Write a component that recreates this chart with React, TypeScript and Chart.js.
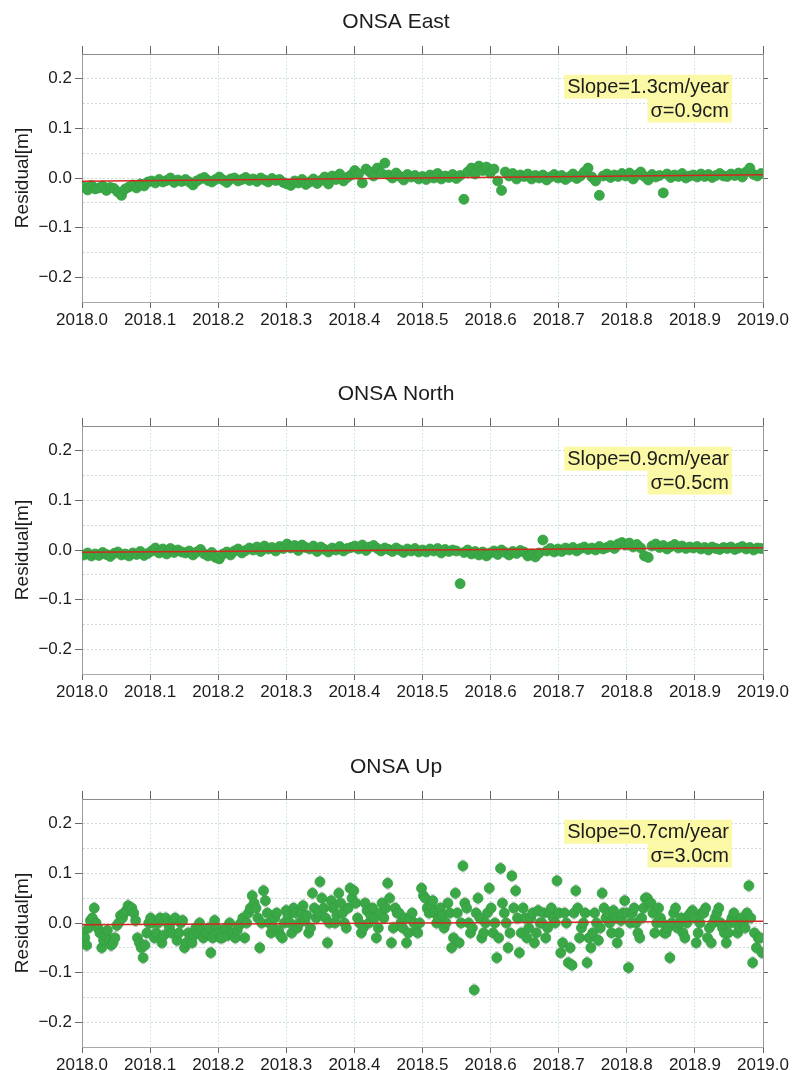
import React, { useEffect, useRef } from 'react';
import { Chart, registerables } from 'chart.js';

Chart.register(...registerables);
Chart.defaults.font.family = '"Liberation Sans", Arial, Helvetica, sans-serif';

// time span (decimal years) and axis steps
const YEAR_START = 2018.0;
const YEAR_END = 2019.0;
const X_TICK_STEP = 0.1;
const Y_MIN = -0.25;
const Y_MAX = 0.25;
const Y_GRID_STEP = 0.05;

// residuals [m] (evenly spaced over the year)
const EAST_RESID = [
  -0.018, -0.024, -0.015, -0.022, -0.02, -0.016, -0.025, -0.019, -0.021,
  -0.028, -0.035, -0.022, -0.018, -0.014, -0.02, -0.012, -0.016, -0.008,
  -0.006, -0.01, -0.003, -0.008, -0.005, 0.0, -0.009, -0.004, -0.007,
  -0.003, -0.008, -0.014, -0.006, -0.002, 0.001, -0.005, -0.008, -0.003,
  0.002, -0.004, -0.009, -0.002, 0.0, -0.006, -0.003, 0.001, -0.005,
  -0.002, -0.007, 0.0, -0.004, -0.008, -0.001, -0.005, -0.003, -0.009,
  -0.012, -0.015, -0.006, -0.01, -0.003, -0.013, -0.008, -0.002, -0.011,
  -0.005, 0.002, -0.012, 0.004, -0.003, 0.008, -0.006, 0.001, 0.006,
  0.015, 0.008, -0.01, 0.018, 0.012, 0.004, 0.02, 0.01, 0.03,
  0.006, 0.0, 0.01, 0.003, -0.004, 0.007, 0.002, 0.005, -0.002,
  0.003, -0.003, 0.006, 0.0, 0.009, -0.002, 0.004, 0.001, 0.007,
  -0.001, 0.005, -0.043, 0.012, 0.02, 0.008, 0.024, 0.015, 0.022,
  0.01, 0.018, -0.006, -0.025, 0.012, 0.004, 0.009, -0.002, 0.006,
  0.003, 0.008, -0.002, 0.005, 0.0, 0.006, -0.004, 0.002, 0.007,
  0.0, 0.005, -0.003, 0.002, 0.008, -0.001, 0.004, 0.012, 0.02,
  0.002, -0.006, -0.035, 0.004, 0.008, 0.001, 0.006, 0.003, 0.009,
  0.004, 0.01, -0.002, 0.006, 0.012, 0.003, -0.004, 0.007, 0.002,
  0.005, -0.03, 0.008, 0.001, 0.006, 0.003, 0.009, 0.0, 0.004,
  0.006, 0.002, 0.008, 0.003, 0.007, 0.001, 0.005, 0.009, 0.004,
  0.003, 0.008, 0.005, 0.01, 0.002, 0.012, 0.02, 0.007, 0.004, 0.009,
];

const NORTH_RESID = [
  -0.01, -0.006, -0.012, -0.008, -0.011, -0.005, -0.009, -0.013, -0.007,
  -0.004, -0.01, -0.008, -0.012, -0.006, -0.009, -0.003, -0.011, -0.007,
  -0.002, 0.004, -0.006, 0.002, -0.008, 0.003, -0.005, 0.0, -0.004,
  -0.006, -0.002, -0.01, -0.004, 0.001, -0.008, -0.012, -0.005, -0.015,
  -0.018, -0.008, -0.004, -0.01, -0.002, 0.002, -0.006, -0.001, 0.004,
  0.0, 0.006, -0.003, 0.008, 0.002, 0.005, -0.002, 0.007, 0.003,
  0.012, 0.004, 0.009, -0.001, 0.01, 0.005, 0.002, 0.008, -0.003,
  0.006, 0.001, -0.004, 0.004, 0.0, 0.007, -0.002, 0.003, 0.005,
  0.008, 0.002, 0.01, -0.001, 0.006, 0.009, 0.003, -0.002, 0.004,
  0.001, -0.003, 0.004, 0.0, -0.005, 0.002, -0.002, 0.003, -0.004,
  0.0, -0.004, 0.002, -0.002, 0.003, -0.006, 0.001, -0.003, 0.0,
  -0.002, -0.068, -0.005, 0.0, -0.008, -0.003, -0.01, -0.004, -0.012,
  -0.006, -0.002, -0.009, 0.0, -0.005, -0.01, -0.003, -0.007, -0.001,
  -0.004, -0.012, -0.008, -0.014, -0.006, 0.02, -0.002, 0.003, -0.004,
  0.002, -0.003, 0.004, 0.0, 0.005, -0.002, 0.003, 0.006, 0.001,
  0.004, 0.0, 0.007, 0.002, 0.005, 0.009, 0.003, 0.012, 0.015,
  0.01, 0.014, 0.006, 0.011, 0.004, -0.012, -0.015, 0.008, 0.012,
  0.005, 0.009, 0.002, 0.007, 0.011, 0.004, 0.008, 0.003, 0.006,
  0.004, 0.007, 0.002, 0.005, 0.0, 0.006, 0.003, 0.001, 0.005,
  0.003, 0.006, 0.001, 0.004, 0.007, 0.002, 0.005, 0.0, 0.004, 0.003,
];

const UP_RESID = [
  -0.02, -0.03, -0.045, -0.01, 0.005, 0.01, 0.03, 0.0, -0.01, -0.02, -0.05, -0.035, -0.025, -0.015, -0.035, -0.045, -0.04, -0.03,
  -0.005, 0.0, 0.015, 0.01, 0.02, 0.025, 0.035, 0.03, 0.03, 0.02, 0.005, -0.03, -0.04, -0.05, -0.07, -0.045, -0.02, 0.0,
  0.01, 0.0, -0.03, -0.02, 0.0, 0.01, -0.04, -0.025, 0.01, 0.0, -0.01, -0.02, 0.005, 0.01, -0.035, -0.02, 0.0, 0.005,
  -0.05, -0.04, -0.02, -0.03, -0.04, -0.025, -0.01, -0.02, 0.0, -0.015, -0.03, -0.02, -0.02, -0.01, -0.06, -0.03, 0.005, -0.01,
  -0.02, -0.03, -0.03, -0.015, -0.01, -0.025, 0.0, -0.02, -0.025, -0.03, -0.015, -0.005, 0.0, 0.01, -0.03, 0.0, 0.02, 0.03,
  0.055, 0.04, 0.03, 0.01, -0.05, 0.0, 0.065, 0.045, 0.02, 0.0, -0.02, -0.01, 0.01, 0.02, -0.015, -0.025, -0.03, 0.0,
  0.025, 0.015, 0.0, -0.02, 0.03, 0.02, -0.01, 0.0, 0.02, 0.035, 0.005, 0.015, -0.02, -0.01, 0.06, 0.03, 0.01, 0.02,
  0.083, 0.05, 0.03, 0.01, -0.04, 0.0, 0.045, 0.03, 0.0, 0.015, 0.06, 0.04, 0.02, 0.0, -0.01, 0.03, 0.07, 0.05,
  0.065, 0.04, 0.01, 0.0, -0.02, -0.01, 0.04, 0.025, 0.0, 0.015, 0.03, 0.01, -0.03, -0.01, 0.02, 0.04, 0.01, 0.03,
  0.08, 0.05, -0.04, -0.01, 0.03, 0.02, 0.02, 0.0, -0.01, 0.01, -0.04, -0.02, 0.01, 0.02, 0.0, -0.015, -0.02, 0.0,
  0.07, 0.055, 0.05, 0.03, 0.02, 0.035, 0.045, 0.02, 0.0, 0.01, 0.03, 0.015, -0.01, 0.0, 0.04, 0.02, -0.05, -0.03,
  0.06, 0.02, -0.04, 0.0, 0.115, 0.04, 0.03, 0.0, -0.02, -0.01, -0.135, 0.02, 0.05, 0.01, -0.03, -0.02, 0.0, 0.02,
  0.07, 0.03, -0.02, 0.0, -0.07, -0.03, 0.11, 0.04, 0.02, 0.0, -0.05, -0.02, 0.095, 0.03, 0.065, 0.01, -0.06, -0.02,
  0.03, 0.01, -0.03, -0.01, 0.01, 0.02, -0.04, -0.02, 0.025, 0.0, 0.0, 0.02, -0.03, -0.01, 0.02, 0.03, 0.01, 0.0,
  0.085, 0.02, -0.06, -0.04, 0.02, 0.0, -0.08, -0.05, -0.085, 0.02, 0.065, 0.03, -0.03, -0.01, 0.0, 0.02, -0.08, -0.03,
  -0.05, -0.02, 0.02, 0.0, -0.035, -0.01, 0.06, 0.03, 0.01, 0.02, 0.0, -0.02, 0.025, 0.01, -0.04, -0.02, 0.005, 0.02,
  0.045, 0.02, -0.09, 0.0, 0.02, 0.03, 0.0, -0.02, -0.03, 0.01, 0.03, 0.05, 0.05, 0.04, 0.04, 0.02, -0.02, 0.0,
  0.03, 0.01, 0.0, -0.02, -0.02, -0.01, -0.07, 0.0, 0.02, 0.03, -0.01, 0.0, 0.01, -0.02, -0.03, 0.0, 0.015, 0.02,
  0.025, 0.01, -0.04, -0.02, 0.0, 0.02, 0.02, 0.03, -0.03, -0.01, -0.04, 0.0, 0.01, 0.02, 0.03, 0.0, -0.01, -0.02,
  -0.04, -0.02, 0.0, 0.01, 0.02, 0.0, -0.02, -0.01, 0.01, 0.0, -0.01, 0.02, 0.075, 0.01, -0.08, -0.02, -0.05, -0.03, -0.03, -0.06,
];

// formal error of the Up solutions [m]
const UP_ERR = 0.012;

// fitted linear trend, value at start and end of the year [m]
const EAST_TREND = [-0.0065, 0.0065];
const NORTH_TREND = [-0.0045, 0.0045];
const UP_TREND = [-0.0035, 0.0035];

const TITLES = ['ONSA East', 'ONSA North', 'ONSA Up'];
const SLOPE_TEXT = ['Slope=1.3cm/year', 'Slope=0.9cm/year', 'Slope=0.7cm/year'];
const SIGMA_TEXT = ['σ=0.9cm', 'σ=0.5cm', 'σ=3.0cm'];

// where the stats box sits, in data units (right edge, line centres)
const STAT_X = 2018.95;
const STAT_Y = [0.184, 0.136];

const GREEN = '#3aa846';
const RED = '#d2281e';
const TEXT = '#1c1c1c';

const isMajorY = (v: number) => Math.abs(Math.round(v * 100)) % 10 === 0;

const statBoxPlugin = {
  id: 'statBox',
  afterDatasetsDraw(chart: any, _args: any, opts: any) {
    if (!opts || !opts.lines) return;
    const { ctx, scales } = chart;
    const xr = scales.x.getPixelForValue(opts.x);
    ctx.save();
    ctx.font = '20px "Liberation Sans", Arial, sans-serif';
    ctx.textAlign = 'right';
    ctx.textBaseline = 'middle';
    opts.lines.forEach((txt: string, k: number) => {
      const y = scales.y.getPixelForValue(opts.y[k]);
      const w = ctx.measureText(txt).width;
      ctx.fillStyle = '#fbf9a6';
      ctx.fillRect(xr - w - 3, y - 12, w + 6, 24);
      ctx.fillStyle = TEXT;
      ctx.fillText(txt, xr, y + 1);
    });
    ctx.restore();
  },
};

const errBarPlugin = {
  id: 'errBars',
  beforeDatasetsDraw(chart: any, _args: any, opts: any) {
    if (!opts || !opts.sigma) return;
    const { ctx, scales } = chart;
    const pts = chart.data.datasets[1].data as { x: number; y: number }[];
    ctx.save();
    ctx.strokeStyle = 'rgba(160,160,160,0.55)';
    ctx.lineWidth = 1;
    ctx.beginPath();
    for (const p of pts) {
      const x = scales.x.getPixelForValue(p.x);
      const y1 = scales.y.getPixelForValue(p.y - opts.sigma);
      const y2 = scales.y.getPixelForValue(p.y + opts.sigma);
      ctx.moveTo(x, y1);
      ctx.lineTo(x, y2);
      ctx.moveTo(x - 2, y1);
      ctx.lineTo(x + 2, y1);
      ctx.moveTo(x - 2, y2);
      ctx.lineTo(x + 2, y2);
    }
    ctx.stroke();
    ctx.restore();
  },
};

interface PanelProps {
  top: number;
  height: number;
  title: string;
  values: number[];
  trend: number[];
  slope: string;
  sigma: string;
  err: number;
}

function ResidualPanel({ top, height, title, values, trend, slope, sigma, err }: PanelProps) {
  const canvasRef = useRef<HTMLCanvasElement | null>(null);

  useEffect(() => {
    if (!canvasRef.current) return;
    const ctx = canvasRef.current.getContext('2d');
    if (!ctx) return;

    const n = values.length;
    const points = values.map((v, i) => ({ x: YEAR_START + (i + 0.5) / n, y: v }));

    const yTickColor = (c: any) => (c.tick && isMajorY(c.tick.value) ? '#666' : 'rgba(0,0,0,0)');

    const chart = new Chart(ctx, {
      type: 'scatter',
      data: {
        datasets: [
          {
            type: 'line',
            data: [
              { x: YEAR_START, y: trend[0] },
              { x: YEAR_END, y: trend[1] },
            ],
            borderColor: RED,
            borderWidth: 1.5,
            pointRadius: 0,
            order: 0,
          },
          {
            data: points,
            backgroundColor: GREEN,
            borderColor: '#33a041',
            borderWidth: 0.8,
            pointRadius: 5,
            order: 1,
          },
        ],
      },
      options: {
        responsive: false,
        animation: false,
        events: [],
        layout: { padding: 0 },
        plugins: {
          legend: { display: false },
          tooltip: { enabled: false },
          title: {
            display: true,
            text: title,
            color: TEXT,
            font: { size: 21, weight: 'normal' },
            padding: { top: 10, bottom: 4 },
          },
          statBox: { x: STAT_X, y: STAT_Y, lines: [slope, sigma] },
          errBars: { sigma: err },
        } as any,
        scales: {
          x: {
            type: 'linear',
            position: 'bottom',
            min: YEAR_START,
            max: YEAR_END,
            ticks: {
              stepSize: X_TICK_STEP,
              autoSkip: false,
              maxRotation: 0,
              padding: 2,
              color: TEXT,
              font: { size: 17 },
              callback: (v: any) => Number(v).toFixed(1),
            },
            grid: {
              color: 'rgba(150,210,230,0.65)',
              lineWidth: 1,
              tickLength: 6,
              tickColor: '#666',
            },
            border: { color: '#a8a8a8', dash: [1.5, 2] },
            afterFit: (s: any) => {
              s.height = height - 302;
            },
          },
          x2: {
            type: 'linear',
            position: 'top',
            min: YEAR_START,
            max: YEAR_END,
            ticks: { stepSize: X_TICK_STEP, display: false },
            grid: { drawOnChartArea: false, tickLength: 8, tickColor: '#666' },
            border: { color: '#8c8c8c' },
            afterFit: (s: any) => {
              s.height = 54 - 39.2;
            },
          },
          y: {
            type: 'linear',
            position: 'left',
            min: Y_MIN,
            max: Y_MAX,
            ticks: {
              stepSize: Y_GRID_STEP,
              padding: 3,
              color: TEXT,
              font: { size: 17 },
              callback: (v: any) => {
                const n2 = Number(v);
                if (!isMajorY(n2)) return '';
                const s = Math.abs(n2).toFixed(1);
                return n2 < -1e-9 ? '−' + s : s;
              },
            },
            grid: {
              color: 'rgba(195,202,202,0.75)',
              tickLength: 7,
              tickColor: yTickColor,
            },
            border: { color: '#9a9a9a', dash: [2, 2] },
            title: {
              display: true,
              text: 'Residual[m]',
              color: TEXT,
              font: { size: 19 },
              padding: { top: 11, bottom: 0 },
            },
            afterFit: (s: any) => {
              s.width = 82;
            },
          },
          y2: {
            type: 'linear',
            position: 'right',
            min: Y_MIN,
            max: Y_MAX,
            ticks: { stepSize: Y_GRID_STEP, display: false },
            grid: { drawOnChartArea: false, tickLength: 5, tickColor: yTickColor },
            border: { color: '#9a9a9a' },
            afterFit: (s: any) => {
              s.width = 792 - 763;
            },
          },
        },
      } as any,
      plugins: [errBarPlugin, statBoxPlugin],
    });

    return () => chart.destroy();
  }, [height, title, values, trend, slope, sigma, err]);

  return (
    <div style={{ position: 'absolute', left: 0, top, width: 792, height }}>
      <canvas ref={canvasRef} width={792} height={height} style={{ width: 792, height }} />
    </div>
  );
}

export default function App() {
  return (
    <div style={{ position: 'absolute', left: 0, top: 0, width: 792, height: 1070, background: '#fff', overflow: 'hidden' }}>
      <ResidualPanel top={0} height={372} title={TITLES[0]} values={EAST_RESID} trend={EAST_TREND} slope={SLOPE_TEXT[0]} sigma={SIGMA_TEXT[0]} err={0} />
      <ResidualPanel top={372} height={372} title={TITLES[1]} values={NORTH_RESID} trend={NORTH_TREND} slope={SLOPE_TEXT[1]} sigma={SIGMA_TEXT[1]} err={0} />
      <ResidualPanel top={745} height={325} title={TITLES[2]} values={UP_RESID} trend={UP_TREND} slope={SLOPE_TEXT[2]} sigma={SIGMA_TEXT[2]} err={UP_ERR} />
    </div>
  );
}
